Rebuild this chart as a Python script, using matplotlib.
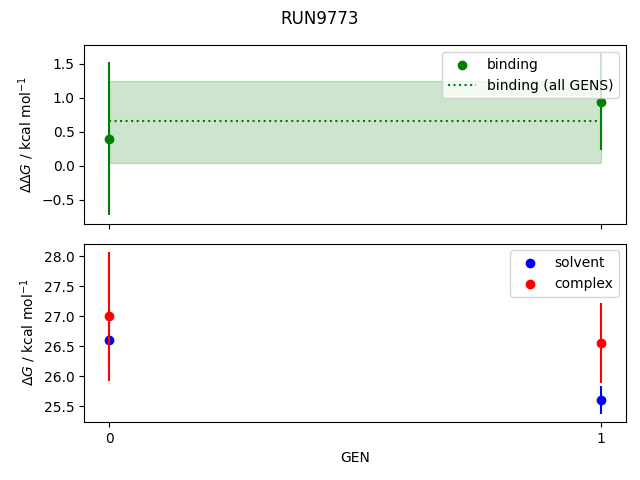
import matplotlib
matplotlib.use("Agg")
import matplotlib.pyplot as plt

run_name = "RUN9773"
gens = [0, 1]

# free energies per GEN (kcal/mol)
solvent = [26.61, 25.60]
solvent_err = [0.33, 0.23]
complex_ = [27.00, 26.55]
complex_err = [1.08, 0.67]
binding = [0.40, 0.945]
binding_err = [1.13, 0.71]

# binding estimate over all GENS
binding_all = 0.66
binding_all_low = 0.04
binding_all_high = 1.25


def main():
    fig, (ax1, ax2) = plt.subplots(2, 1, sharex=True, figsize=(6.4, 4.8), dpi=100)
    fig.suptitle(run_name, y=0.98)

    # top: binding free energy
    ax1.scatter(gens, binding, color="green", label="binding")
    ax1.errorbar(gens, binding, yerr=binding_err, color="green", ls="none")
    ax1.hlines(binding_all, gens[0], gens[-1], color="green", ls=":",
               label="binding (all GENS)")
    ax1.fill_between(gens, binding_all_low, binding_all_high, color="green", alpha=0.2)
    ax1.set_ylabel(r"$\Delta\Delta G$ / kcal mol$^{-1}$")
    ax1.legend(loc="upper right")

    # bottom: solvent and complex legs
    ax2.scatter(gens, solvent, color="blue", label="solvent")
    ax2.errorbar(gens, solvent, yerr=solvent_err, color="blue", ls="none")
    ax2.scatter(gens, complex_, color="red", label="complex")
    ax2.errorbar(gens, complex_, yerr=complex_err, color="red", ls="none")
    ax2.set_ylabel(r"$\Delta G$ / kcal mol$^{-1}$")
    ax2.set_xlabel("GEN")
    ax2.set_xticks(gens)
    ax2.legend(loc="upper right")

    fig.subplots_adjust(left=0.132, right=0.978, top=0.906, bottom=0.121, hspace=0.112)
    fig.savefig("out.png")


if __name__ == "__main__":
    main()
